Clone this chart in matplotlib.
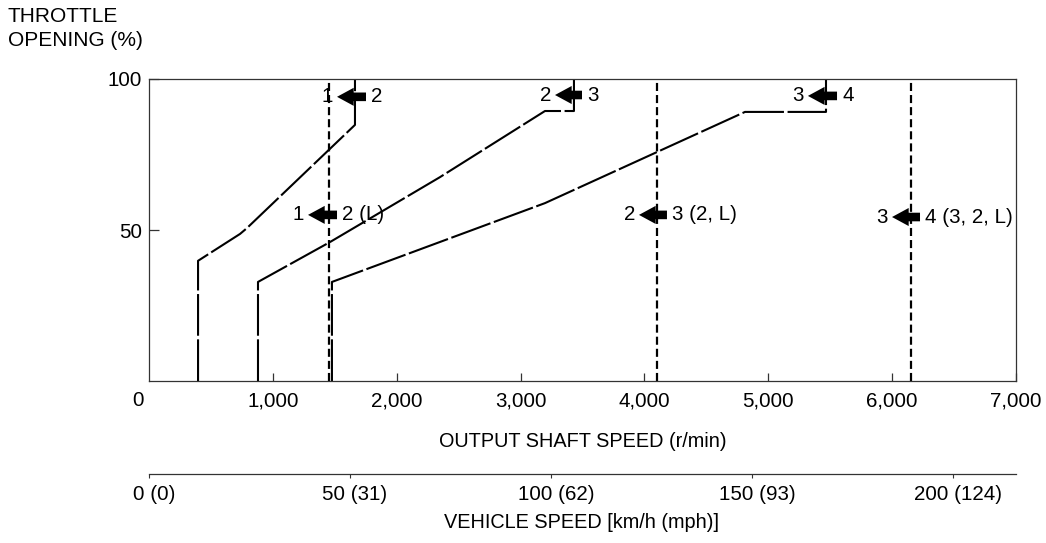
import matplotlib
matplotlib.use("Agg")
import matplotlib.pyplot as plt

plt.rcParams['font.family'] = ['Liberation Sans', 'DejaVu Sans']
plt.rcParams['lines.scale_dashes'] = False

# ---- data ----
# upshift curves: (output shaft speed r/min, throttle opening %)
curve12_x = [396, 396, 735, 790, 1663, 1663]
curve12_y = [0, 39.8, 48.7, 50.6, 84.8, 100]
curve23_x = [880, 880, 1461, 2349, 3197, 3431, 3431]
curve23_y = [0, 32.8, 46.0, 67.5, 89.4, 89.4, 100]
curve34_x = [1477, 1477, 3197, 4812, 5466, 5466]
curve34_y = [0, 32.8, 58.9, 89.1, 89.1, 100]
# downshift (vertical) lines
downshift_x = [1450, 4100, 6150]

# arrow labels: (left text, right text, tip x, tail x, y)
arrow_labels = [
    ("1", "2", 1518, 1752, 94.1),
    ("1", "2 (L)", 1284, 1518, 55.0),
    ("2", "3", 3278, 3496, 94.7),
    ("2", "3 (2, L)", 3956, 4182, 55.0),
    ("3", "4", 5320, 5555, 94.4),
    ("3", "4 (3, 2, L)", 5999, 6225, 54.3),
]

x_ticks = [1000, 2000, 3000, 4000, 5000, 6000, 7000]
x_ticklabels = ["1,000", "2,000", "3,000", "4,000", "5,000", "6,000", "7,000"]
y_ticks = [50, 100]
y_ticklabels = ["50", "100"]
kmh_ticks = [0, 50, 100, 150, 200]
kmh_labels = ["0 (0)", "50 (31)", "100 (62)", "150 (93)", "200 (124)"]
rpm_per_kmh = 32.46

FS = 14.8
W, H = 1046, 543
fig = plt.figure(figsize=(W / 100, H / 100), dpi=100)

ax = fig.add_axes([149 / W, 1 - 381 / H, 867 / W, 302 / H])
ax.set_xlim(0, 7000)
ax.set_ylim(0, 100)

curve_style = dict(color='black', lw=1.5, linestyle=(0, (30, 2.6)),
                   solid_capstyle='butt', dash_capstyle='butt', solid_joinstyle='round')
for xs, ys in [(curve12_x, curve12_y), (curve23_x, curve23_y), (curve34_x, curve34_y)]:
    ax.plot(xs, ys, **curve_style)

for xv in downshift_x:
    ax.axvline(xv, color='black', lw=1.6, linestyle=(0, (5.8, 2.9)))

for left, right, tip, tail, yv in arrow_labels:
    ax.annotate('', xy=(tip, yv), xytext=(tail, yv),
                arrowprops=dict(arrowstyle='simple,head_length=1.2,head_width=1.3,tail_width=0.62',
                                mutation_scale=10, color='black', shrinkA=0, shrinkB=0, lw=0))
    ax.annotate(left, xy=(tip, yv), xytext=(-4, 0), textcoords='offset pixels',
                ha='right', va='center', fontsize=FS)
    ax.annotate(right, xy=(tail, yv), xytext=(5, 0), textcoords='offset pixels',
                ha='left', va='center', fontsize=FS)

ax.set_xticks(x_ticks)
ax.set_xticklabels(x_ticklabels)
ax.set_yticks(y_ticks)
ax.set_yticklabels(y_ticklabels)
ax.tick_params(axis='x', direction='in', length=6, width=0.9, pad=7.5, labelsize=FS, color='#333333')
ax.tick_params(axis='y', direction='in', length=7, width=0.9, pad=5, labelsize=FS, color='#333333')
ax.annotate("0", xy=(0, 0), xytext=(-11, -19), textcoords='offset pixels',
            ha='center', va='center', fontsize=FS)
for s in ax.spines.values():
    s.set_color('#333333')
    s.set_linewidth(0.9)

ax.set_xlabel("OUTPUT SHAFT SPEED (r/min)", fontsize=14.3, labelpad=15.5)

# vehicle speed scale
ax2 = fig.add_axes([149 / W, 1 - 474 / H, 867 / W, 0.001])
ax2.set_xlim(0, 7000 / rpm_per_kmh)
ax2.set_ylim(0, 1)
ax2.patch.set_visible(False)
for side in ['left', 'right', 'top']:
    ax2.spines[side].set_visible(False)
ax2.spines['bottom'].set_color('#333333')
ax2.spines['bottom'].set_linewidth(0.9)
ax2.set_yticks([])
ax2.set_xticks(kmh_ticks)
ax2.set_xticklabels([])
ax2.tick_params(axis='x', direction='out', length=3, width=0.8, color='#333333')
for v, lab in zip(kmh_ticks, kmh_labels):
    ax2.annotate(lab, xy=(v, 0), xycoords=('data', 'axes fraction'), xytext=(5, -20),
                 textcoords='offset pixels', ha='center', va='center', fontsize=FS)

fig.text(582 / W, 1 - 523 / H, "VEHICLE SPEED [km/h (mph)]", ha='center', va='center', fontsize=14.3)
fig.text(8 / W, 1 - 16 / H, "THROTTLE", ha='left', va='center', fontsize=15)
fig.text(8 / W, 1 - 41 / H, "OPENING (%)", ha='left', va='center', fontsize=15)

fig.savefig("out.png", dpi=100)
